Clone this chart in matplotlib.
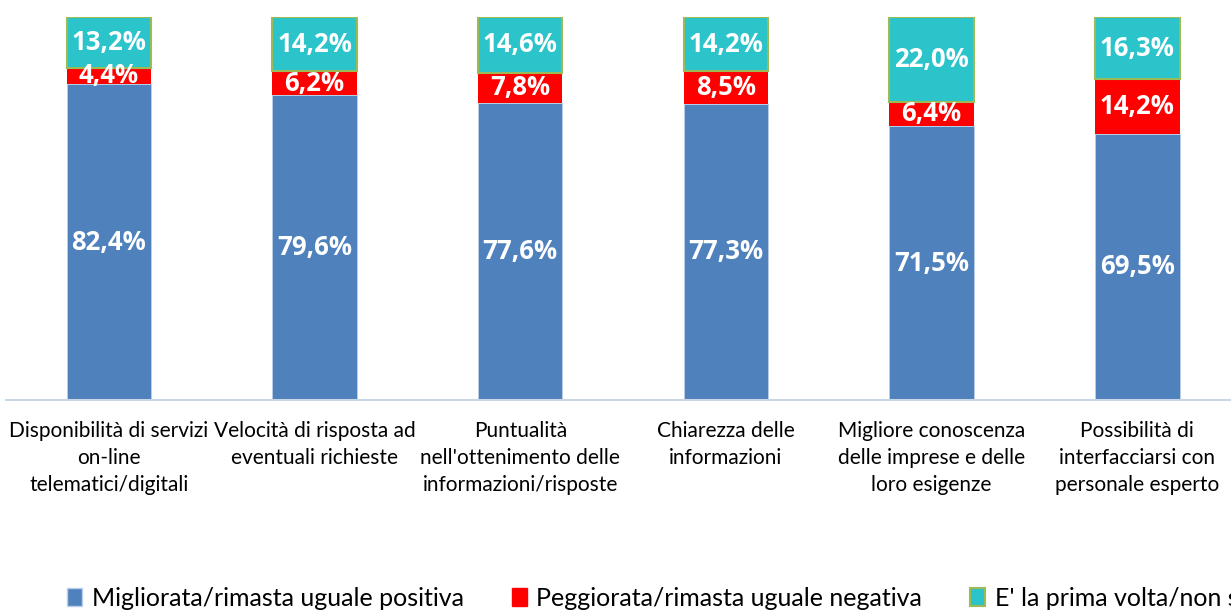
import matplotlib
matplotlib.use("Agg")
import matplotlib.pyplot as plt
from matplotlib.patches import Patch

categories = [
    "Disponibilità di servizi\non-line\ntelematici/digitali",
    "Velocità di risposta ad\neventuali richieste",
    "Puntualità\nnell'ottenimento delle\ninformazioni/risposte",
    "Chiarezza delle\ninformazioni",
    "Migliore conoscenza\ndelle imprese e delle\nloro esigenze",
    "Possibilità di\ninterfacciarsi con\npersonale esperto",
]
positiva = [82.4, 79.6, 77.6, 77.3, 71.5, 69.5]
negativa = [4.4, 6.2, 7.8, 8.5, 6.4, 14.2]
non_sa = [13.2, 14.2, 14.6, 14.2, 22.0, 16.3]
series_names = ["Migliorata/rimasta uguale positiva",
                "Peggiorata/rimasta uguale negativa",
                "E' la prima volta/non sa"]

plt.rcParams['font.family'] = ['Lato', 'DejaVu Sans']

W, H = 1231, 610
fig = plt.figure(figsize=(W / 100, H / 100), dpi=100)
ax = fig.add_axes([6 / W, 1 - 400 / H, 1 - 6 / W, (400 - 17) / H])

x = list(range(len(categories)))
bw = 0.41
c_blue, c_red, c_teal, c_edge = "#4F81BD", "#FF0000", "#2BC4CB", "#9BBB59"

ax.bar(x, positiva, bw, color=c_blue, edgecolor="#BBD0E8", linewidth=0.6)
ax.bar(x, negativa, bw, bottom=positiva, color=c_red, linewidth=0)
bottom3 = [p + n for p, n in zip(positiva, negativa)]
ax.bar(x, non_sa, bw, bottom=bottom3, color=c_teal, edgecolor=c_edge, linewidth=1.5)

def fmt(v):
    return f"{v:.1f}%".replace(".", ",")

lab_kw = dict(ha="center", va="center", color="white", fontsize=18.5,
              fontweight="bold", family=["Open Sans", "DejaVu Sans"])
for i in x:
    ax.text(i, positiva[i] / 2, fmt(positiva[i]), **lab_kw)
    ax.text(i, positiva[i] + negativa[i] / 2, fmt(negativa[i]), **lab_kw)
    ax.text(i, bottom3[i] + non_sa[i] / 2, fmt(non_sa[i]), **lab_kw)

ax.set_xlim(-0.5, (W - 6) / 205.7 - 0.5)
ax.set_ylim(0, 100)
for s in ["top", "right", "left"]:
    ax.spines[s].set_visible(False)
ax.spines["bottom"].set_color("#C9D6E6")
ax.spines["bottom"].set_linewidth(1.5)
ax.set_yticks([])
ax.set_xticks(x)
ax.set_xticklabels(categories, fontsize=15, linespacing=1.45)
ax.tick_params(axis="x", length=0, pad=15)

handles = [Patch(facecolor=c_blue, edgecolor="#BBD0E8"),
           Patch(facecolor=c_red, edgecolor=c_red),
           Patch(facecolor=c_teal, edgecolor=c_edge, linewidth=1.5)]
fig.legend(handles, series_names, loc="center left", bbox_to_anchor=(57 / W, 1 - 598 / H),
           ncol=3, frameon=False, fontsize=18, handlelength=0.6, handleheight=0.75,
           handletextpad=0.4, columnspacing=1.9, borderaxespad=0)

fig.savefig("out.png", dpi=100)
